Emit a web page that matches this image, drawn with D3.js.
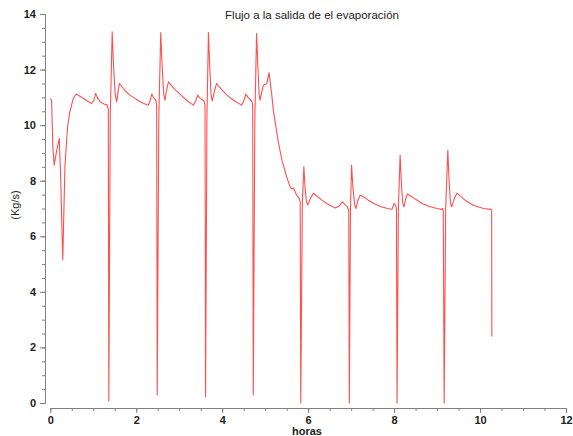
<!DOCTYPE html>
<html>
<head>
<meta charset="utf-8">
<script src="https://cdn.jsdelivr.net/npm/d3@7"></script>
<style>
  html, body { margin: 0; padding: 0; background: #fff; }
  svg { display: block; }
  text { font-family: "Liberation Sans", Arial, sans-serif; }
</style>
</head>
<body>
<svg id="chart" width="573" height="436"></svg>
<script>
const titleText = "Flujo a la salida de el evaporación";
const xLabel = "horas";
const yLabel = "(Kg/s)";
const xTicks = [0, 2, 4, 6, 8, 10, 12];
const yTicks = [0, 2, 4, 6, 8, 10, 12, 14];
const xMinor = d3.range(0, 12.01, 0.5);
const yMinor = d3.range(0, 14.01, 0.5);

const hours = [
  0.00, 0.03, 0.06, 0.09, 0.15, 0.21, 0.24, 0.29, 0.34, 0.40, 0.45, 0.535, 0.60, 0.70, 0.80, 0.90, 0.96, 1.01, 1.056, 1.10, 1.16, 1.25, 1.33, 1.35,
  1.362, 1.395, 1.44, 1.47, 1.51, 1.545, 1.58, 1.61, 1.66, 1.75, 1.85, 1.95, 2.05, 2.15, 2.28, 2.32, 2.36, 2.41, 2.46, 2.475,
  2.488, 2.525, 2.57, 2.60, 2.64, 2.67, 2.71, 2.75, 2.80, 2.90, 3.00, 3.10, 3.20, 3.33, 3.38, 3.43, 3.48, 3.58, 3.60,
  3.613, 3.645, 3.68, 3.71, 3.74, 3.77, 3.82, 3.87, 3.92, 4.00, 4.10, 4.20, 4.30, 4.45, 4.50, 4.55, 4.60, 4.69, 4.71,
  4.723, 4.76, 4.80, 4.83, 4.86, 4.88, 4.92, 4.96, 5.04, 5.09, 5.15, 5.19, 5.25, 5.31, 5.39, 5.50, 5.58, 5.62, 5.66, 5.73, 5.79, 5.815,
  5.828, 5.865, 5.90, 5.93, 5.96, 5.99, 6.05, 6.12, 6.20, 6.32, 6.45, 6.55, 6.63, 6.72, 6.80, 6.86, 6.91, 6.945,
  6.958, 6.985, 7.01, 7.04, 7.08, 7.11, 7.16, 7.21, 7.27, 7.40, 7.55, 7.70, 7.85, 7.95, 8.00, 8.04, 8.055,
  8.068, 8.10, 8.14, 8.17, 8.20, 8.23, 8.27, 8.31, 8.37, 8.50, 8.65, 8.84, 9.00, 9.11, 9.13, 9.145,
  9.165, 9.20, 9.25, 9.28, 9.31, 9.34, 9.40, 9.46, 9.52, 9.65, 9.84, 10.08, 10.25, 10.27, 10.275
];
const flow = [
  10.95, 10.90, 9.20, 8.56, 9.10, 9.52, 8.20, 5.15, 8.50, 9.90, 10.45, 10.96, 11.12, 11.03, 10.93, 10.83, 10.78, 10.88, 11.14, 10.98, 10.84, 10.76, 10.72, 10.55,
  0.07, 10.30, 13.36, 12.20, 11.10, 10.84, 11.25, 11.50, 11.40, 11.22, 11.08, 10.98, 10.88, 10.80, 10.72, 10.86, 11.12, 10.98, 10.88, 10.70,
  0.29, 10.30, 13.33, 12.20, 11.10, 10.90, 11.30, 11.56, 11.46, 11.28, 11.14, 11.00, 10.86, 10.72, 10.86, 11.08, 10.98, 10.86, 10.70,
  0.23, 10.30, 13.33, 12.10, 11.10, 10.87, 11.22, 11.50, 11.40, 11.26, 11.10, 10.97, 10.86, 10.72, 10.86, 11.12, 11.00, 10.86, 10.70,
  0.29, 10.30, 13.30, 12.10, 11.10, 10.90, 11.20, 11.44, 11.50, 11.89, 11.14, 10.54, 9.94, 9.35, 8.74, 8.14, 7.78, 7.70, 7.74, 7.48, 7.37, 7.25,
  0.00, 7.20, 8.50, 7.70, 7.25, 7.12, 7.35, 7.55, 7.45, 7.30, 7.16, 7.08, 7.02, 7.08, 7.24, 7.14, 7.06, 6.95,
  0.00, 7.00, 8.56, 7.80, 7.15, 7.00, 7.30, 7.48, 7.44, 7.30, 7.16, 7.06, 7.00, 6.97, 7.19, 7.10, 7.00,
  0.00, 7.00, 8.92, 7.90, 7.20, 7.06, 7.35, 7.52, 7.47, 7.33, 7.18, 7.06, 7.00, 6.97, 7.00, 6.90,
  0.00, 7.00, 9.10, 8.00, 7.20, 7.06, 7.35, 7.55, 7.48, 7.30, 7.12, 7.00, 6.97, 6.95, 2.39
];

const svg = d3.select("#chart");
const x = d3.scaleLinear().domain([0, 12]).range([50.3, 566]);
const y = d3.scaleLinear().domain([0, 14]).range([403, 14]);

const axisColor = "#808080";
const textColor = "#222";

// Y axis
const gy = svg.append("g").attr("transform", "translate(45,0)");
gy.call(d3.axisLeft(y).tickValues(yMinor).tickSize(3).tickSizeOuter(0).tickFormat(""));
gy.call(g => g.append("g").call(d3.axisLeft(y).tickValues(yTicks).tickSize(5).tickSizeOuter(0).tickPadding(4)));
gy.selectAll("path.domain").attr("stroke", axisColor);
gy.selectAll("line").attr("stroke", axisColor);
gy.selectAll("text").attr("fill", textColor).style("font-size", "11px").style("font-weight", "bold")
  .style("font-family", '"Liberation Sans", Arial, sans-serif');

// X axis
const gx = svg.append("g").attr("transform", "translate(0,408)");
gx.call(d3.axisBottom(x).tickValues(xMinor).tickSize(3).tickSizeOuter(0).tickFormat(""));
gx.call(g => g.append("g").call(d3.axisBottom(x).tickValues(xTicks).tickSize(5).tickSizeOuter(0).tickPadding(3)));
gx.selectAll("path.domain").attr("stroke", axisColor);
gx.selectAll("line").attr("stroke", axisColor);
gx.selectAll("text").attr("fill", textColor).style("font-size", "11px").style("font-weight", "bold")
  .style("font-family", '"Liberation Sans", Arial, sans-serif');

// Data line
const pts = hours.map((h, i) => [h, flow[i]]);
const line = d3.line().x(d => x(d[0])).y(d => y(d[1]));
svg.append("path")
  .datum(pts)
  .attr("fill", "none")
  .attr("stroke", "#ff5050")
  .attr("stroke-width", 1.1)
  .attr("stroke-linejoin", "round")
  .attr("d", line);

// Title
svg.append("text")
  .attr("x", 312).attr("y", 19)
  .attr("text-anchor", "middle")
  .attr("fill", textColor)
  .style("font-size", "11.5px")
  .text(titleText);

// X label
svg.append("text")
  .attr("x", 307).attr("y", 435)
  .attr("text-anchor", "middle")
  .attr("fill", textColor)
  .style("font-size", "11px").style("font-weight", "bold")
  .text(xLabel);

// Y label
svg.append("text")
  .attr("transform", "translate(19,205) rotate(-90)")
  .attr("text-anchor", "middle")
  .attr("fill", textColor)
  .style("font-size", "11px")
  .text(yLabel);
</script>
</body>
</html>
